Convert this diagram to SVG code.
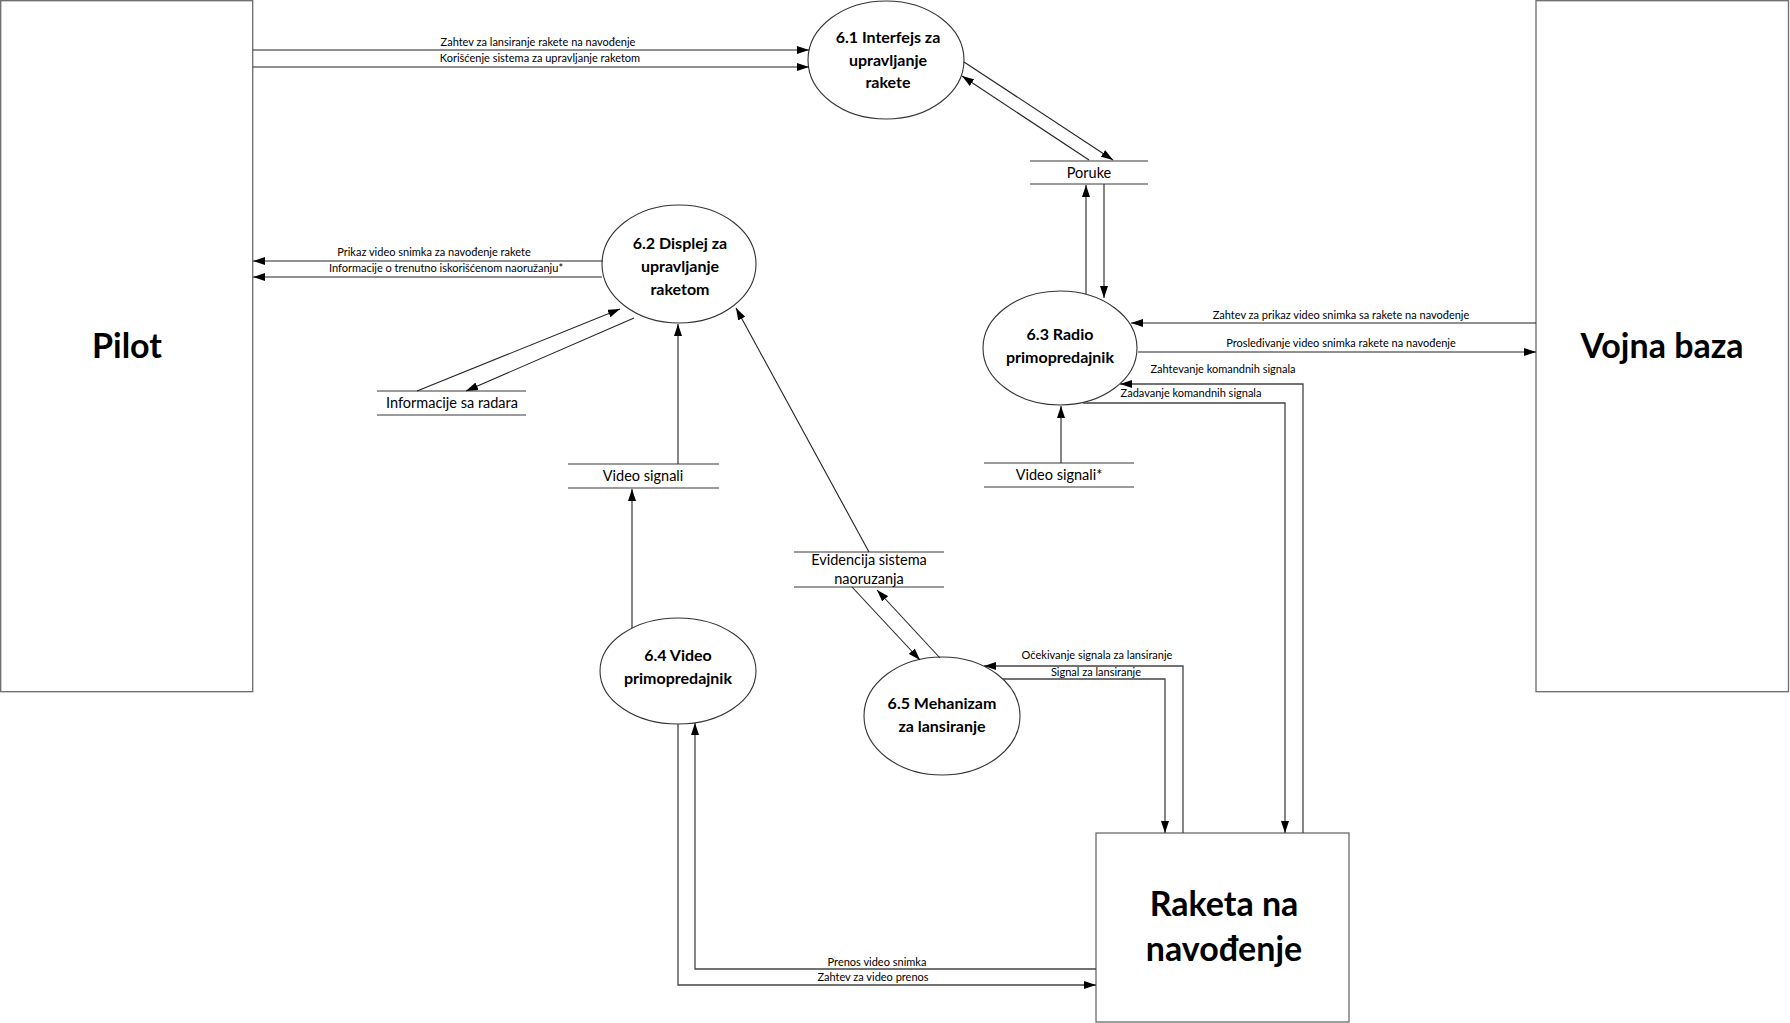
<svg xmlns="http://www.w3.org/2000/svg" width="1790" height="1023" viewBox="0 0 1790 1023">
<defs>
<marker id="ah" markerWidth="12" markerHeight="8" refX="12" refY="4" orient="auto" markerUnits="userSpaceOnUse">
<path d="M0,0 L12,4 L0,8 z" fill="#000"/>
</marker>
<style>
.ent{fill:#fff;stroke:#6b6b6b;stroke-width:1.3}
.proc{fill:#fff;stroke:#333;stroke-width:1.1}
.st{stroke:#7a7a7a;stroke-width:1.5;fill:none}
.c{fill:none;stroke:#222;stroke-width:1.1}
.co{fill:none;stroke:#444;stroke-width:1.3}
.big{font-family:Lato,"Liberation Sans",sans-serif;font-weight:bold;font-size:34px;fill:#000;text-anchor:middle}
.pt{font-family:Lato,"Liberation Sans",sans-serif;font-weight:bold;font-size:16px;fill:#000;text-anchor:middle}
.ds{font-family:Lato,"Liberation Sans",sans-serif;font-size:14.5px;fill:#000;text-anchor:middle}
.lb{font-family:Lato,"Liberation Sans",sans-serif;font-size:11px;fill:#000;text-anchor:middle}
</style>
</defs>
<rect width="1790" height="1023" fill="#fff"/>

<g id="pilot">
<rect class="ent" x="0.7" y="0.7" width="252" height="691"/>
<text class="big" x="127" y="358">Pilot</text>
</g>
<g id="vojna-baza">
<rect class="ent" x="1536" y="0.7" width="252.5" height="691"/>
<text class="big" x="1662" y="358">Vojna baza</text>
</g>
<g id="raketa">
<rect class="ent" x="1096" y="833" width="253" height="189"/>
<text class="big" x="1224" y="916">Raketa na</text>
<text class="big" x="1224" y="961">navođenje</text>
</g>

<g id="p61">
<ellipse class="proc" cx="886" cy="60" rx="78" ry="59"/>
<text class="pt" x="888" y="43">6.1 Interfejs za</text>
<text class="pt" x="888" y="66">upravljanje</text>
<text class="pt" x="888" y="88">rakete</text>
</g>
<g id="p62">
<ellipse class="proc" cx="679" cy="264" rx="77" ry="59"/>
<text class="pt" x="680" y="249">6.2 Displej za</text>
<text class="pt" x="680" y="272">upravljanje</text>
<text class="pt" x="680" y="295">raketom</text>
</g>
<g id="p63">
<ellipse class="proc" cx="1060" cy="348" rx="77" ry="57"/>
<text class="pt" x="1060" y="340">6.3 Radio</text>
<text class="pt" x="1060" y="363">primopredajnik</text>
</g>
<g id="p64">
<ellipse class="proc" cx="678" cy="671" rx="78" ry="53"/>
<text class="pt" x="678" y="661">6.4 Video</text>
<text class="pt" x="678" y="684">primopredajnik</text>
</g>
<g id="p65">
<ellipse class="proc" cx="942" cy="716" rx="78" ry="59"/>
<text class="pt" x="942" y="709">6.5 Mehanizam</text>
<text class="pt" x="942" y="732">za lansiranje</text>
</g>

<g id="store-poruke">
<line class="st" x1="1030" y1="161" x2="1148" y2="161"/>
<line class="st" x1="1030" y1="184" x2="1148" y2="184"/>
<text class="ds" x="1089" y="178">Poruke</text>
</g>
<g id="store-radar">
<line class="st" x1="377" y1="391" x2="526" y2="391"/>
<line class="st" x1="377" y1="415" x2="526" y2="415"/>
<text class="ds" x="452" y="408">Informacije sa radara</text>
</g>
<g id="store-video">
<line class="st" x1="568" y1="464" x2="719" y2="464"/>
<line class="st" x1="568" y1="488" x2="719" y2="488"/>
<text class="ds" x="643" y="481">Video signali</text>
</g>
<g id="store-video2">
<line class="st" x1="984" y1="463" x2="1134" y2="463"/>
<line class="st" x1="984" y1="487" x2="1134" y2="487"/>
<text class="ds" x="1059" y="480">Video signali*</text>
</g>
<g id="store-evidencija">
<line class="st" x1="794" y1="552" x2="944" y2="552"/>
<line class="st" x1="794" y1="587" x2="944" y2="587"/>
<text class="ds" x="869" y="565">Evidencija sistema</text>
<text class="ds" x="869" y="584">naoruzanja</text>
</g>

<g id="connectors">
<line class="c" x1="253" y1="50" x2="809" y2="50" marker-end="url(#ah)"/>
<line class="c" x1="253" y1="67" x2="809" y2="67" marker-end="url(#ah)"/>
<line class="c" x1="964" y1="62" x2="1113" y2="160" marker-end="url(#ah)"/>
<line class="c" x1="1089" y1="160" x2="962" y2="76" marker-end="url(#ah)"/>
<line class="c" x1="1086" y1="294" x2="1086" y2="185" marker-end="url(#ah)"/>
<line class="c" x1="1104" y1="184" x2="1104" y2="298" marker-end="url(#ah)"/>
<line class="c" x1="603" y1="261" x2="253" y2="261" marker-end="url(#ah)"/>
<line class="c" x1="602" y1="277" x2="253" y2="277" marker-end="url(#ah)"/>
<line class="c" x1="417" y1="391" x2="620" y2="309" marker-end="url(#ah)"/>
<line class="c" x1="634" y1="318" x2="466" y2="391" marker-end="url(#ah)"/>
<line class="c" x1="678" y1="464" x2="678" y2="324" marker-end="url(#ah)"/>
<line class="c" x1="632" y1="628" x2="632" y2="489" marker-end="url(#ah)"/>
<line class="c" x1="869" y1="552" x2="736" y2="308" marker-end="url(#ah)"/>
<line class="c" x1="852" y1="587" x2="920" y2="660" marker-end="url(#ah)"/>
<line class="c" x1="940" y1="658" x2="877" y2="590" marker-end="url(#ah)"/>
<line class="c" x1="1536" y1="323" x2="1131" y2="323" marker-end="url(#ah)"/>
<line class="c" x1="1138" y1="352" x2="1536" y2="352" marker-end="url(#ah)"/>
<polyline class="co" points="1303,833 1303,384 1120,384" marker-end="url(#ah)"/>
<polyline class="co" points="1083,403 1285,403 1285,833" marker-end="url(#ah)"/>
<line class="c" x1="1061" y1="463" x2="1061" y2="406" marker-end="url(#ah)"/>
<polyline class="co" points="1183,833 1183,666 984,666" marker-end="url(#ah)"/>
<polyline class="co" points="1003,679 1165,679 1165,833" marker-end="url(#ah)"/>
<polyline class="co" points="678,724 678,985 1096,985" marker-end="url(#ah)"/>
<polyline class="co" points="1096,969 695,969 695,723" marker-end="url(#ah)"/>

<text class="lb" x="538" y="46">Zahtev za lansiranje rakete na navođenje</text>
<text class="lb" x="540" y="62">Korišćenje sistema za upravljanje raketom</text>
<text class="lb" x="434" y="256">Prikaz video snimka za navođenje rakete</text>
<text class="lb" x="446" y="272">Informacije o trenutno iskorišćenom naoružanju*</text>
<text class="lb" x="1341" y="319">Zahtev za prikaz video snimka sa rakete na navođenje</text>
<text class="lb" x="1341" y="347">Prosleđivanje video snimka rakete na navođenje</text>
<text class="lb" x="1223" y="373">Zahtevanje komandnih signala</text>
<text class="lb" x="1191" y="397">Zadavanje komandnih signala</text>
<text class="lb" x="1097" y="659">Očekivanje signala za lansiranje</text>
<text class="lb" x="1096" y="676">Signal za lansiranje</text>
<text class="lb" x="877" y="966">Prenos video snimka</text>
<text class="lb" x="873" y="981">Zahtev za video prenos</text>
</g>
</svg>
